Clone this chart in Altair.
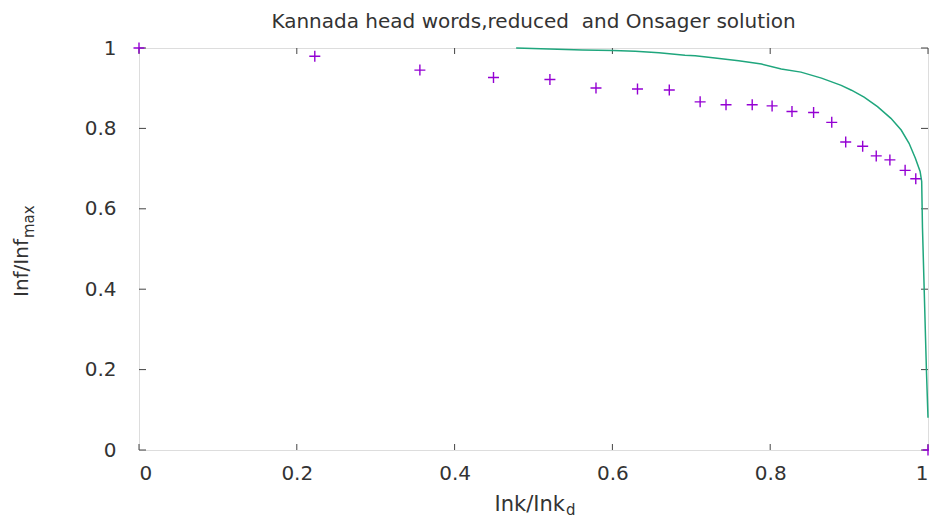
import altair as alt
import pandas as pd

title_text = "Kannada head words,reduced \u00a0and Onsager solution"
x_ticks = [0, 0.2, 0.4, 0.6, 0.8, 1.0]
y_ticks = [0, 0.2, 0.4, 0.6, 0.8, 1.0]

# Kannada head words (reduced) - '+' points
pts_x = [0.0, 0.2228, 0.356, 0.4493, 0.5208, 0.5792, 0.6318, 0.6721, 0.7112, 0.744,
         0.7772, 0.8024, 0.8276, 0.855, 0.878, 0.8957, 0.9172, 0.9344, 0.9517, 0.971,
         0.9845, 1.0]
pts_y = [1.0, 0.9795, 0.945, 0.9267, 0.9217, 0.9005, 0.898, 0.8956, 0.866, 0.859,
         0.859, 0.856, 0.842, 0.8395, 0.815, 0.766, 0.7556, 0.7316, 0.7217, 0.6956,
         0.6748, 0.0]

# Onsager solution - line
line_x = [0.478, 0.562, 0.601, 0.629, 0.659, 0.692, 0.705, 0.730, 0.760, 0.789,
          0.814, 0.839, 0.865, 0.890, 0.903, 0.919, 0.936, 0.953, 0.966, 0.976,
          0.984, 0.990, 0.992, 0.993, 0.998, 1.0]
line_y = [1.0, 0.995, 0.994, 0.992, 0.988, 0.982, 0.981, 0.975, 0.968, 0.960,
          0.948, 0.940, 0.925, 0.907, 0.895, 0.878, 0.854, 0.825, 0.796, 0.763,
          0.726, 0.693, 0.668, 0.553, 0.199, 0.08]

W, H = 789, 402
PURPLE = "#9400d3"
GREEN = "#1fa67d"
AXIS = "#444444"
TEXT = "#333333"
FONT = "DejaVu Sans"

pts = pd.DataFrame({"x": pts_x, "y": pts_y})
ln = pd.DataFrame({"x": line_x, "y": line_y, "i": list(range(len(line_x)))})
xt = pd.DataFrame({"v": x_ticks})
yt = pd.DataFrame({"v": y_ticks})
one = pd.DataFrame({"t": [0]})

xscale = alt.Scale(domain=[0, 1], nice=False, zero=False)
yscale = alt.Scale(domain=[0, 1], nice=False, zero=False)

xaxis = alt.Axis(values=x_ticks, format="~g", ticks=False, tickSize=0, domain=False,
                 grid=False, labelPadding=13, title=None, labelFontSize=20,
                 labelFont=FONT, labelColor=TEXT)
yaxis = alt.Axis(values=y_ticks, format="~g", ticks=False, tickSize=0, domain=False,
                 grid=False, labelPadding=23, title=None, labelFontSize=20,
                 labelFont=FONT, labelColor=TEXT)

X = alt.X("x:Q", scale=xscale, axis=xaxis)
Y = alt.Y("y:Q", scale=yscale, axis=yaxis)

points = alt.Chart(pts).mark_point(
    shape="M-1,0L1,0M0,-1L0,1", filled=False, size=121, strokeWidth=1.4,
    color=PURPLE, opacity=1
).encode(x=X, y=Y)

line = alt.Chart(ln).mark_line(color=GREEN, strokeWidth=1.5).encode(
    x=X, y=Y, order="i:Q"
)

XV = alt.X("v:Q", scale=xscale, axis=xaxis)
YV = alt.Y("v:Q", scale=yscale, axis=yaxis)
tick_bottom = alt.Chart(xt).mark_rule(color=AXIS, strokeWidth=1).encode(
    x=XV, y=alt.value(H), y2=alt.value(H - 6))
tick_top = alt.Chart(xt).mark_rule(color=AXIS, strokeWidth=1).encode(
    x=XV, y=alt.value(0), y2=alt.value(6))
tick_left = alt.Chart(yt).mark_rule(color=AXIS, strokeWidth=1).encode(
    y=YV, x=alt.value(0), x2=alt.value(7))
tick_right = alt.Chart(yt).mark_rule(color=AXIS, strokeWidth=1).encode(
    y=YV, x=alt.value(W), x2=alt.value(W - 7))

xt_main = alt.Chart(one).mark_text(
    text="Ink/Ink", font=FONT, fontSize=21, align="right", baseline="alphabetic",
    color=TEXT).encode(x=alt.value(426), y=alt.value(463))
xt_sub = alt.Chart(one).mark_text(
    text="d", font=FONT, fontSize=15, align="left", baseline="alphabetic",
    color=TEXT).encode(x=alt.value(427), y=alt.value(467))
yt_main = alt.Chart(one).mark_text(
    text="Inf/Inf", font=FONT, fontSize=20, align="left", baseline="alphabetic",
    angle=270, color=TEXT).encode(x=alt.value(-111), y=alt.value(249))
yt_sub = alt.Chart(one).mark_text(
    text="max", font=FONT, fontSize=15, align="left", baseline="alphabetic",
    angle=270, color=TEXT).encode(x=alt.value(-105), y=alt.value(190))

chart = alt.layer(
    tick_bottom, tick_top, tick_left, tick_right, points, line,
    xt_main, xt_sub, yt_main, yt_sub
).properties(
    width=W, height=H,
    title=alt.Title(text=title_text, font=FONT, fontSize=20, fontWeight="normal",
                    color=TEXT, anchor="middle", offset=6),
    autosize=alt.AutoSizeParams(type="none"),
    padding={"left": 131, "top": 40, "right": 1, "bottom": 69},
).configure_view(
    stroke=AXIS, strokeWidth=1
).configure(background="white")

chart.save("out.html", embed_options={"renderer": "svg", "actions": False})
